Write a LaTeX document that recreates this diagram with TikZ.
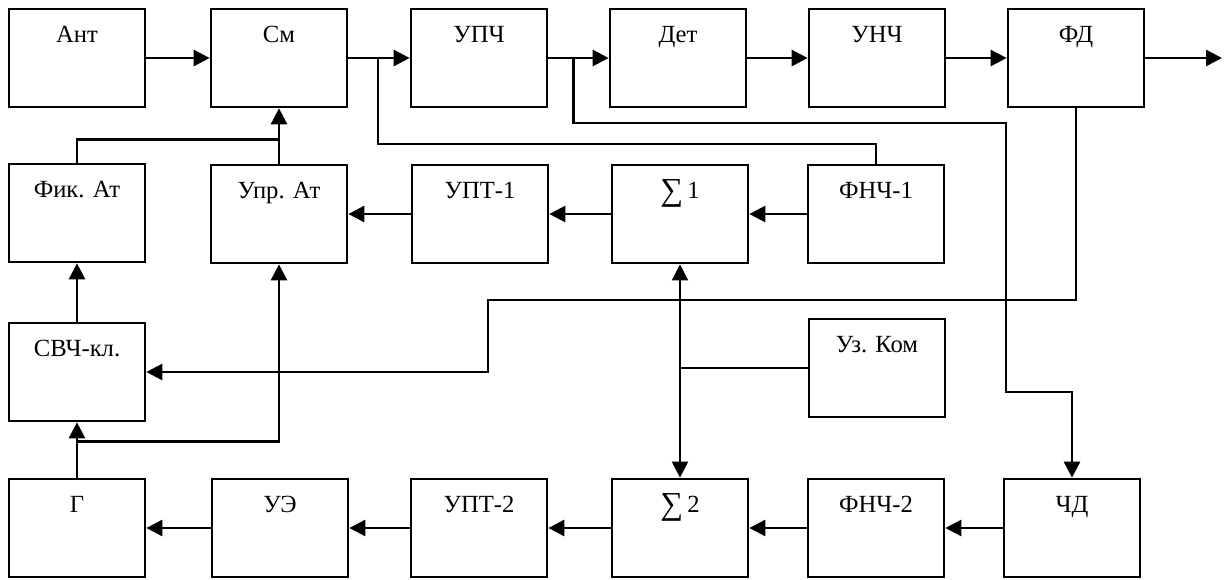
\documentclass[tikz,border=0pt]{standalone}
\usepackage{fontspec}
\setmainfont{Liberation Serif}
\usetikzlibrary{arrows.meta,calc}
\newcommand\sumsign{\raisebox{-0.08em}{\fontsize{24}{24}\selectfont ∑}}
\begin{document}
\begin{tikzpicture}[x=0.75pt,y=-0.75pt,
  blk/.style={draw, line width=2pt, minimum width=102pt, minimum height=73.5pt, inner sep=0pt},
  lbl/.style={anchor=base, inner sep=0pt, font=\fontsize{18.5}{21}\selectfont},
  wire/.style={line width=2pt},
  thinwire/.style={line width=1.5pt},
  arr/.style={wire, -{Triangle[length=12pt,width=12pt]}},
  arrboth/.style={thinwire, {Triangle[length=12pt,width=12pt]}-{Triangle[length=12pt,width=12pt]}}]
\useasboundingbox (0,0) rectangle (1229,579);
\newcommand\mkblk[3]{\node[blk] (#1) at (#2) {};
  \node[lbl] (#1-t) at ($(#1.north)+(0,35)$) {#3};}
% row 1
\mkblk{ant}{77,58}{Ант}
\mkblk{sm}{279,58}{См}
\mkblk{upch}{479,58}{УПЧ}
\mkblk{det}{678,58}{Дет}
\mkblk{unch}{877,58}{УНЧ}
\mkblk{fd}{1076,58}{ФД}
% row 2
\mkblk{fik}{77,213}{Фик. Ат}
\mkblk{uprat}{279,214}{Упр. Ат}
\mkblk{upt1}{480,214}{УПТ-1}
\mkblk{s1}{680,214}{\sumsign\,1}
\mkblk{fnch1}{876,214}{ФНЧ-1}
% row 3
\mkblk{svch}{77,372}{СВЧ-кл.}
\mkblk{uzkom}{877,368}{Уз. Ком}
% row 4
\mkblk{g}{77,528}{Г}
\mkblk{ue}{280,528}{УЭ}
\mkblk{upt2}{479,528}{УПТ-2}
\mkblk{s2}{680,528}{\sumsign\,2}
\mkblk{fnch2}{876,528}{ФНЧ-2}
\mkblk{chd}{1072,528}{ЧД}
% coordinates
\coordinate (j1) at ($(sm.east)+(30,0)$);
\coordinate (j2) at ($(upch.east)+(25,0)$);
\coordinate (b1) at (1006,123);
\coordinate (b2) at (1006,392);
\coordinate (out) at (1222,58);
\coordinate (c1) at (488,300);
\coordinate (j4) at ($(uprat.north)+(0,-24)$);
\coordinate (j3) at ($(g.north)+(0,-36)$);
% top row chain
\draw[arr] (ant) -- (sm);
\draw[arr] (sm) -- (upch);
\draw[arr] (upch) -- (det);
\draw[arr] (det) -- (unch);
\draw[arr] (unch) -- (fd);
\draw[arr] (fd) -- (out);
% branches
\draw[thinwire] (j1) |- ($(fnch1.north)+(0,-20)$) -- (fnch1.north);
\draw[arr] (j2) |- (b1) -- (b2) -| (chd.north);
\draw[arr] (fd.south) |- (c1) |- (svch.east);
% attenuators to mixer
\draw[wire] (fik.north) |- (j4);
\draw[arr] (uprat.north) -- (sm.south);
\draw[arr] (svch.north) -- (fik.south);
\draw[arr] (g.north) -- (svch.south);
\draw[arr] (j3) -| (uprat.south);
% row 2 chain
\draw[arr] (upt1) -- (uprat);
\draw[arr] (s1) -- (upt1);
\draw[arr] (fnch1) -- (s1);
% sums
\draw[arrboth] (s2.north) -- (s1.south);
\draw[thinwire] (uzkom.west) -- (uzkom.west -| s1.south);
% bottom chain
\draw[arr] (chd) -- (fnch2);
\draw[arr] (fnch2) -- (s2);
\draw[arr] (s2) -- (upt2);
\draw[arr] (upt2) -- (ue);
\draw[arr] (ue) -- (g);
\end{tikzpicture}
\end{document}
